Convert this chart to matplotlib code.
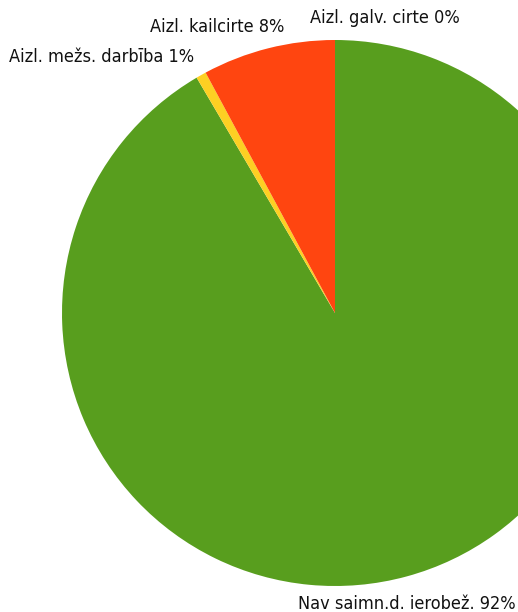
import numpy as np
import matplotlib
matplotlib.use('agg')
import matplotlib.pyplot as plt

plt.rcParams['font.family'] = ['DejaVu Sans']
plt.rcParams['font.stretch'] = 'condensed'

categories = ['Aizl. galv. cirte', 'Nav saimn.d. ierobež.', 'Aizl. mežs. darbība', 'Aizl. kailcirte']
shares = [0.0, 91.54, 0.6, 7.86]
colors = ['#7cb5ec', '#589e1e', '#fdd023', '#ff4510']

# label offsets from the slice edge, in pixels
label_shift = [(-25, 22, 'left'), (109, -28, 'right'), (-7, 18, 'right'), (16, 21, 'right')]

W, H = 518, 612
cx, cy, R = 335, H - 313, 273

fig = plt.figure(figsize=(W / 100, H / 100), dpi=100)
ax = fig.add_axes([0, 0, 1, 1])

wedges, _ = ax.pie(shares, colors=colors, startangle=90, counterclock=False,
                   center=(cx, cy), radius=R, frame=True,
                   wedgeprops=dict(linewidth=0))
ax.set_xlim(0, W)
ax.set_ylim(0, H)
ax.set_aspect('equal')
ax.axis('off')

for w, name, val, (dx, dy, ha) in zip(wedges, categories, shares, label_shift):
    mid = np.deg2rad((w.theta1 + w.theta2) / 2)
    px = cx + R * np.cos(mid)
    py = cy + R * np.sin(mid)
    ax.annotate(f'{name} {round(val):d}%', (px, py), xytext=(dx, dy),
                textcoords='offset pixels', ha=ha, va='center',
                fontsize=13, color='#111111', annotation_clip=False)

plt.savefig('out.png', dpi=100)
